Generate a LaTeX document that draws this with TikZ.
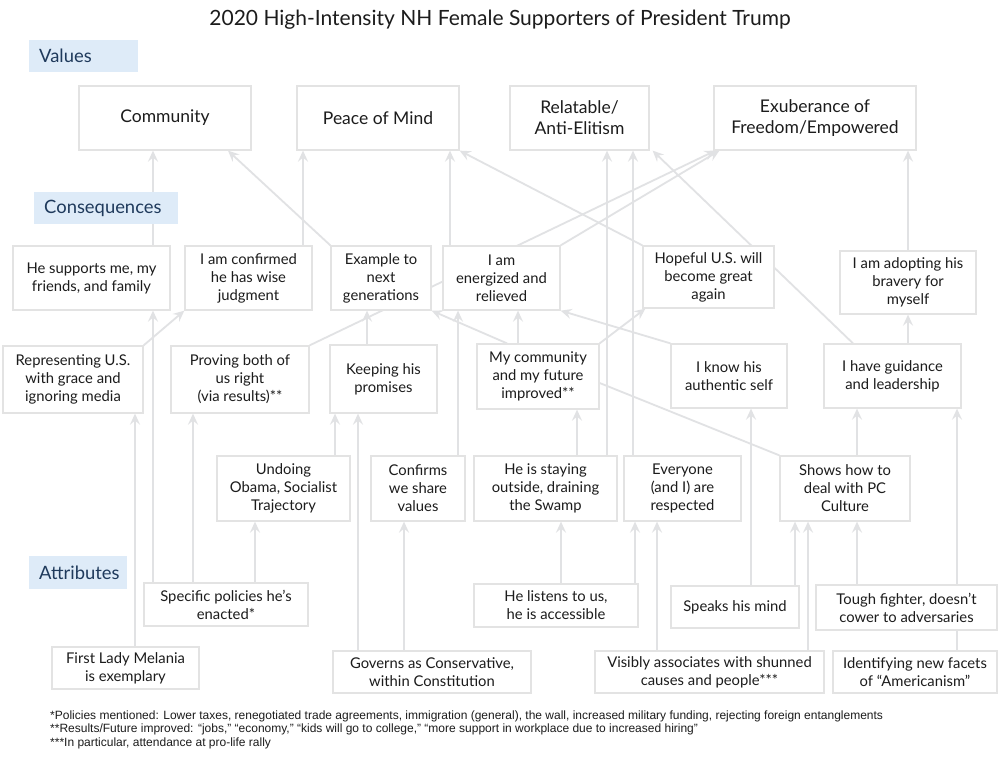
\documentclass[tikz,border=0pt]{standalone}
\usepackage{fontspec}
\setmainfont{Lato}
\newfontfamily\fnfont{Liberation Sans}
\usetikzlibrary{arrows.meta,backgrounds}
\definecolor{boxline}{HTML}{E3E3E3}
\definecolor{edgec}{HTML}{E1E2E4}
\definecolor{lblfill}{HTML}{DEEBF8}
\definecolor{lbltext}{HTML}{1F3A5C}
\definecolor{txt}{HTML}{1C1C1C}
\begin{document}
\begin{tikzpicture}[x=1pt,y=-1pt,
  box/.style={draw=boxline, line width=1.3pt, fill=white, align=center, inner sep=0pt, text=txt, font=\fontsize{14.8}{18}\selectfont},
  valbox/.style={box, font=\fontsize{17.5}{21}\selectfont},
  lbl/.style={fill=lblfill, text=lbltext, font=\fontsize{18.4}{21}\selectfont, inner xsep=10pt, inner ysep=0pt, align=left, anchor=west},
  edge/.style={draw=edgec, line width=1.8pt, -{Stealth[length=11pt,width=10pt,inset=4pt]}},
  fn/.style={font=\fnfont\fontsize{12}{13}\selectfont, anchor=west, inner sep=0pt, text=txt}
]
\useasboundingbox (0,0) rectangle (1000,757);

% title
\node[font=\fontsize{21}{24}\selectfont, text=txt] (title) at (500,20) {2020 High-Intensity NH Female Supporters of President Trump};

% level labels
\node[lbl, text width=89pt, minimum height=32pt] (lv) at (29,56) {Values};
\node[lbl, text width=124pt, minimum height=32pt] (lc) at (34,208) {Consequences};
\node[lbl, text width=78pt, minimum height=33pt] (la) at (29,572.5) {Attributes};

% values
\node[valbox, minimum width=172pt, minimum height=64pt] (comm) at (165,118) {Community};
\node[valbox, minimum width=162pt, minimum height=64pt] (peace) at (378,118) {Peace of Mind};
\node[valbox, minimum width=139pt, minimum height=64pt] (relat) at (579.5,118) {Relatable/\\Anti-Elitism};
\node[valbox, minimum width=202pt, minimum height=64pt] (exub) at (815,118) {Exuberance of\\Freedom/Empowered};

% consequences row 1
\node[box, minimum width=157pt, minimum height=64pt] (supp) at (91.5,278) {He supports me, my\\friends, and family};
\node[box, minimum width=127pt, minimum height=64pt] (conf) at (248.5,278) {I am confirmed\\he has wise\\judgment};
\node[box, minimum width=100pt, minimum height=64pt] (examp) at (381,278) {Example to\\next\\generations};
\node[box, minimum width=117pt, minimum height=64pt] (energ) at (501.5,278) {I am\\energized and\\relieved};
\node[box, minimum width=131pt, minimum height=62pt] (hope) at (708.5,277) {Hopeful U.S. will\\become great\\again};
\node[box, minimum width=136pt, minimum height=63pt] (adopt) at (908,282.5) {I am adopting his\\bravery for\\myself};

% consequences row 2
\node[box, minimum width=140pt, minimum height=67pt] (repr) at (73,379.5) {Representing U.S.\\with grace and\\ignoring media};
\node[box, minimum width=138pt, minimum height=67pt] (prov) at (240,379.5) {Proving both of\\us right\\(via results)**};
\node[box, minimum width=107pt, minimum height=68pt] (keep) at (383.5,379) {Keeping his\\promises};
\node[box, minimum width=122pt, minimum height=65pt] (mycom) at (538,376.5) {My community\\and my future\\improved**};
\node[box, minimum width=116pt, minimum height=64pt] (know) at (729,376) {I know his\\authentic self};
\node[box, minimum width=137pt, minimum height=64pt] (guid) at (892.5,376) {I have guidance\\and leadership};

% consequences row 3
\node[box, minimum width=133pt, minimum height=65pt] (undo) at (283.5,488.5) {Undoing\\Obama, Socialist\\Trajectory};
\node[box, minimum width=94pt, minimum height=65pt] (confv) at (418,488.5) {Confirms\\we share\\values};
\node[box, minimum width=143pt, minimum height=65pt] (stay) at (545.5,488.5) {He is staying\\outside, draining\\the Swamp};
\node[box, minimum width=117pt, minimum height=65pt] (resp) at (682.5,488.5) {Everyone\\(and I) are\\respected};
\node[box, minimum width=130pt, minimum height=65pt] (pc) at (845,488.5) {Shows how to\\deal with PC\\Culture};

% attributes row 1
\node[box, minimum width=164pt, minimum height=43pt] (spec) at (226,604.5) {Specific policies he’s\\enacted*};
\node[box, minimum width=164pt, minimum height=43pt] (listen) at (556,605.5) {He listens to us,\\he is accessible};
\node[box, minimum width=128pt, minimum height=42pt] (speaks) at (735,607) {Speaks his mind};
\node[box, minimum width=181pt, minimum height=45pt] (tough) at (906.5,607.5) {Tough fighter, doesn’t\\cower to adversaries};

% attributes row 2
\node[box, minimum width=147pt, minimum height=42pt] (mel) at (125.5,668) {First Lady Melania\\is exemplary};
\node[box, minimum width=198pt, minimum height=42pt] (gov) at (432,672) {Governs as Conservative,\\within Constitution};
\node[box, minimum width=229pt, minimum height=42pt] (vis) at (709.5,672) {Visibly associates with shunned\\causes and people***};
\node[box, minimum width=164pt, minimum height=42pt] (ident) at (915,672) {Identifying new facets\\of “Americanism”};

% footnotes
\node[fn] (fn1) at (50,716) {*Policies mentioned: Lower taxes, renegotiated trade agreements, immigration (general), the wall, increased military funding, rejecting foreign entanglements};
\node[fn] (fn2) at (50,729.5) {**Results/Future improved: “jobs,” “economy,” “kids will go to college,” “more support in workplace due to increased hiring”};
\node[fn] (fn3) at (50,743) {***In particular, attendance at pro-life rally};

% column helpers
\foreach \c in {135,153,193,255,303,335,358,367,404,450,458,518,561,577,607,633,635,657,751,795,808,857,908,957}
  \coordinate (x\c) at (\c,0);

\begin{pgfonlayer}{background}
\fill[white] (0,0) rectangle (1000,757);
% vertical connectors
\foreach \a/\b/\c in {supp/comm/153, spec/supp/153, conf/peace/303, energ/peace/450,
  stay/relat/607, resp/relat/633, adopt/exub/908, keep/examp/367, confv/energ/458,
  mycom/energ/518, guid/adopt/908, mel/repr/135, spec/prov/193, undo/keep/335,
  gov/keep/358, stay/mycom/577, speaks/know/751, pc/guid/857, ident/guid/957,
  spec/undo/255, gov/confv/404, listen/stay/561, listen/resp/635, vis/resp/657,
  speaks/pc/795, vis/pc/808, tough/pc/857}
  \draw[edge] (\a.north -| x\c) -- (\b.south -| x\c);
% diagonal connectors
\draw[edge] (examp.north west) -- ([xshift=63pt]comm.south);
\draw[edge] (hope.north west) -- (peace.south east);
\draw[edge] ([xshift=-39.5pt]guid.north) -- ([xshift=3pt]relat.south east);
\draw[edge] (prov.north east) -- ([xshift=2pt]exub.south west);
\draw[edge] (energ.north east) -- ([xshift=6pt]exub.south west);
\draw[edge] (repr.north east) -- (conf.south west);
\draw[edge] ([xshift=-31pt]mycom.north) -- (examp.south east);
\draw[edge] (know.north west) -- (energ.south east);
\draw[edge] (mycom.north east) -- ([xshift=3pt]hope.south west);
\draw[edge, -] (pc.north west) -- ([yshift=-6.5pt]mycom.east);
\end{pgfonlayer}
\end{tikzpicture}
\end{document}
